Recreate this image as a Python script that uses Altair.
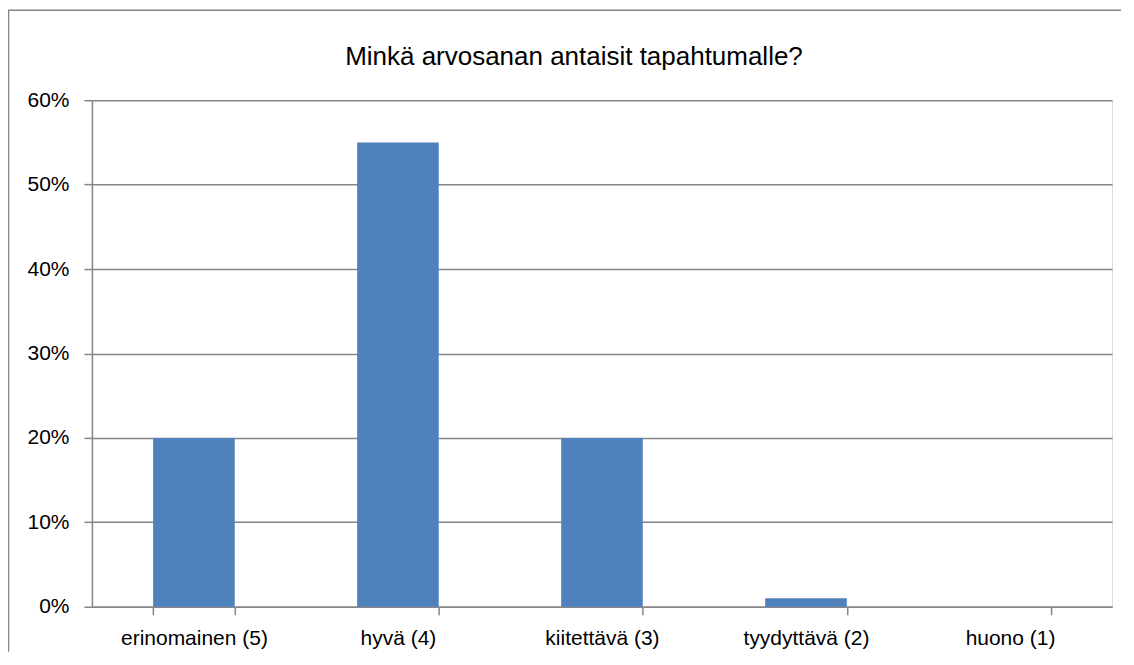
import altair as alt
import pandas as pd

categories = ["erinomainen (5)", "hyvä (4)", "kiitettävä (3)", "tyydyttävä (2)", "huono (1)"]
shares = [0.20, 0.55, 0.20, 0.01, 0.0]
y_ticks = [0.0, 0.1, 0.2, 0.3, 0.4, 0.5, 0.6]
title_text = "Minkä arvosanan antaisit tapahtumalle?"

df = pd.DataFrame({"cat": categories, "share": shares})

GRAY = "#868686"
LABEL_FONT = "Liberation Sans"
TITLE_FONT = "Liberation Sans"

bars = alt.Chart(df).mark_bar(color="#4F81BD").encode(
    x=alt.X(
        "cat:N",
        sort=categories,
        title=None,
        scale=alt.Scale(paddingInner=0.6, paddingOuter=0.3),
        axis=alt.Axis(
            labelAngle=0,
            labelFont=LABEL_FONT,
            labelFontSize=21,
            labelColor="#000000",
            labelPadding=13,
            tickBand="extent",
            tickSize=8,
            tickColor=GRAY,
            tickWidth=1.5,
            domainColor=GRAY,
            domainWidth=1.5,
            grid=False,
        ),
    ),
    y=alt.Y(
        "share:Q",
        title=None,
        scale=alt.Scale(domain=[0, 0.6], nice=False),
        axis=alt.Axis(
            values=y_ticks,
            format=".0%",
            labelFont=LABEL_FONT,
            labelFontSize=21,
            labelColor="#000000",
            labelPadding=15,
            tickSize=8,
            tickColor=GRAY,
            tickWidth=1.5,
            domainColor=GRAY,
            domainWidth=1.5,
            grid=True,
            gridColor=GRAY,
            gridWidth=1.5,
        ),
    ),
)

frame_data = alt.Data(values=[{"k": 1}])
left_border = alt.Chart(frame_data).mark_rule(color=GRAY, strokeWidth=1.5).encode(
    x=alt.value(-83.5), y=alt.value(-90), y2=alt.value(552)
)
top_border = alt.Chart(frame_data).mark_rule(color=GRAY, strokeWidth=1.5).encode(
    x=alt.value(-84), x2=alt.value(1030), y=alt.value(-90)
)

chart = (
    alt.layer(bars, left_border, top_border)
    .properties(
        width=1021,
        height=507,
        title=alt.TitleParams(
            text=title_text,
            font=TITLE_FONT,
            fontSize=26,
            fontWeight="normal",
            color="#000000",
            anchor="middle",
            frame="group",
            baseline="alphabetic",
            offset=-82,
            dx=-28,
        ),
        autosize=alt.AutoSizeParams(type="none"),
        padding={"left": 84, "top": 92, "right": 14, "bottom": 48},
    )
    .configure_view(stroke=None)
    .configure(background="white")
)

chart.save("out.html", embed_options={"renderer": "svg", "actions": False})
